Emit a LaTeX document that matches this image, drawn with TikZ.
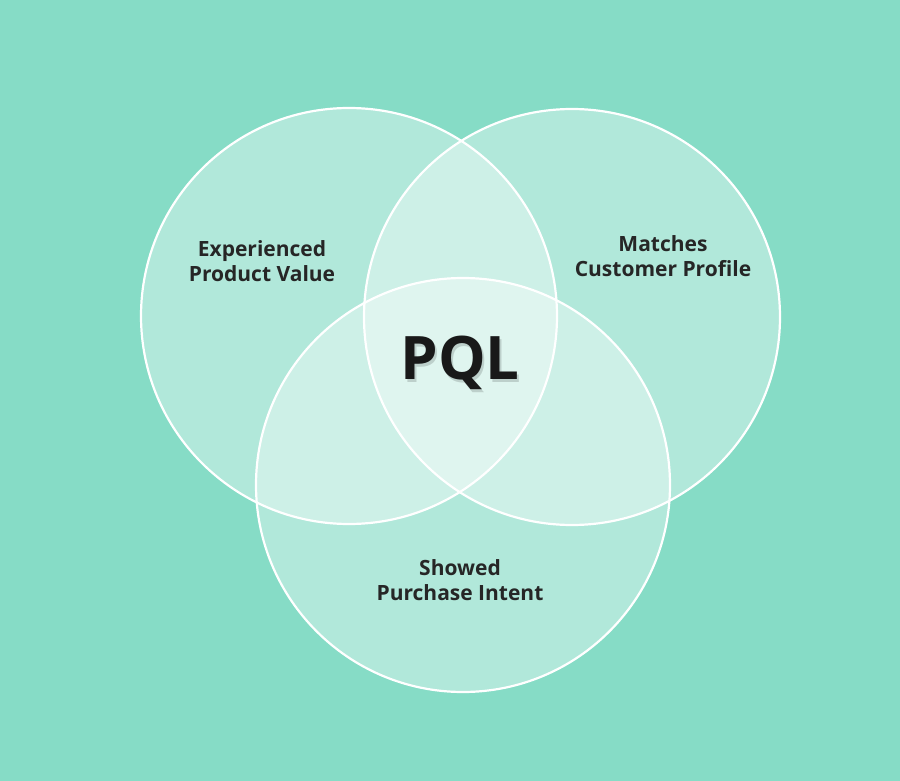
\documentclass[tikz,border=0pt]{standalone}
\usepackage{fontspec}
\setmainfont{Open Sans}
\usetikzlibrary{positioning}
\definecolor{bgteal}{HTML}{86DCC6}
\begin{document}
\begin{tikzpicture}[x=1pt,y=-1pt,
    setcircle/.style={circle, draw=white, line width=2.2pt, fill=white, fill opacity=0.36, text opacity=1},
    setlabel/.style={align=center, font=\fontsize{21}{25}\selectfont\bfseries, text=black!85},
  ]
  %Background
  \fill[bgteal] (0,0) rectangle (900,781);
  \useasboundingbox (0,0) rectangle (900,781);
  %Circles
  \node[setcircle, minimum size=416pt] (value)   at (349,316) {};
  \node[setcircle, minimum size=416pt] (profile) at (572,317) {};
  \node[setcircle, minimum size=414pt] (intent)  at (463,485) {};
  %Labels
  \node[setlabel] (value_txt)   at (262,261) {Experienced\\Product Value};
  \node[setlabel] (profile_txt) at (663,256) {Matches\\Customer Profile};
  \node[setlabel] (intent_txt)  at (460,580) {Showed\\Purchase Intent};
  \node[font=\fontsize{60}{66}\selectfont\bfseries, text=black, opacity=0.15] at (462,366) {PQL};
  \node[font=\fontsize{60}{66}\selectfont\bfseries, text=black!90] (pql) at (460,363) {PQL};
\end{tikzpicture}
\end{document}
